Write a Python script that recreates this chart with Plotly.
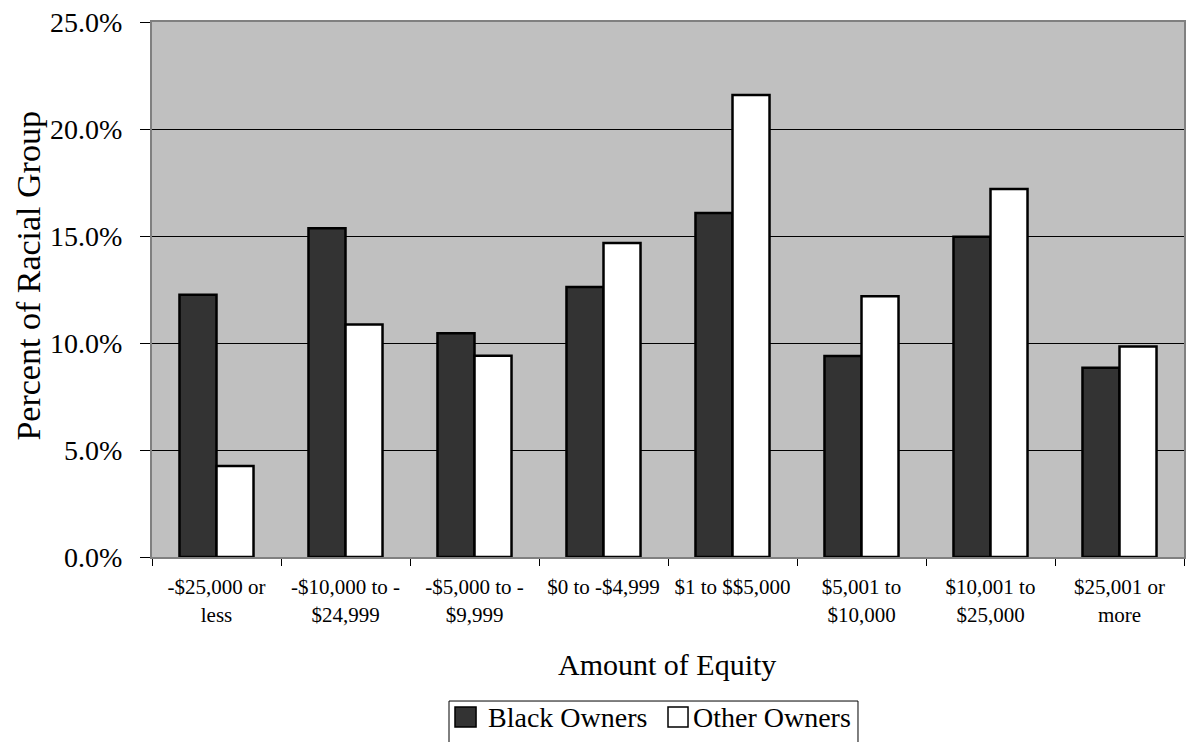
import plotly.graph_objects as go

categories = [
    "-$25,000 or<br>less",
    "-$10,000 to -<br>$24,999",
    "-$5,000 to -<br>$9,999",
    "$0 to -$4,999",
    "$1 to $$5,000",
    "$5,001 to<br>$10,000",
    "$10,001 to<br>$25,000",
    "$25,001 or<br>more",
]
black_owners = [12.26, 15.36, 10.46, 12.62, 16.07, 9.39, 14.97, 8.84]
other_owners = [4.25, 10.87, 9.41, 14.67, 21.59, 12.18, 17.20, 9.84]
series_names = ["Black Owners", "Other Owners"]
series_colors = ["#333333", "#FFFFFF"]
y_ticks = [0, 5, 10, 15, 20, 25]
y_tick_labels = ["0.0%", "5.0%", "10.0%", "15.0%", "20.0%", "25.0%"]

FONT = "Liberation Serif, Times New Roman, serif"

fig = go.Figure()
for name, values, color in zip(series_names, [black_owners, other_owners], series_colors):
    fig.add_trace(go.Bar(
        x=categories, y=values, name=name,
        marker=dict(color=color, line=dict(color="#000000", width=2.5)),
        showlegend=False,
    ))

fig.update_layout(
    width=1190, height=742,
    margin=dict(l=152, r=6, t=22, b=185, autoexpand=False),
    paper_bgcolor="#FFFFFF",
    plot_bgcolor="#C0C0C0",
    font=dict(family=FONT, color="#000000"),
    barmode="group",
    bargap=0.426,
    bargroupgap=0,
)

fig.update_xaxes(
    type="category",
    tickson="boundaries",
    ticks="outside", ticklen=7, tickcolor="#000000", tickwidth=1,
    tickfont=dict(family=FONT, size=21),
    ticklabelstandoff=10,
    showline=True, linecolor="#808080", linewidth=2,
    mirror=True,
    showgrid=False,
    automargin=False,
)
fig.update_yaxes(
    range=[0, 25],
    tickmode="array", tickvals=y_ticks, ticktext=y_tick_labels,
    ticks="outside", ticklen=10, tickcolor="#000000", tickwidth=1,
    tickfont=dict(family=FONT, size=28),
    ticklabelstandoff=12,
    showline=True, linecolor="#808080", linewidth=2,
    mirror=True,
    showgrid=True, gridcolor="#000000", gridwidth=1,
    zeroline=False,
    automargin=False,
)

# Axis titles
fig.add_annotation(
    text="Percent of Racial Group", xref="paper", yref="paper",
    x=-0.1206, y=0.5252, xanchor="center", yanchor="middle",
    textangle=-90, showarrow=False, font=dict(family=FONT, size=34),
)
fig.add_annotation(
    text="Amount of Equity", xref="paper", yref="paper",
    x=0.499, y=-0.2, xanchor="center", yanchor="middle",
    showarrow=False, font=dict(family=FONT, size=30),
)

# Legend box with swatches
fig.add_shape(
    type="rect", xref="paper", yref="paper",
    x0=0.2878, x1=0.6841, y0=-0.3495, y1=-0.2692,
    line=dict(color="#000000", width=1), fillcolor="#FFFFFF", layer="above",
)
swatches = [(0.2936, 0.3140, 0.3236), (0.5000, 0.5194, 0.5223)]
for (sx0, sx1, tx), name, color in zip(swatches, series_names, series_colors):
    fig.add_shape(
        type="rect", xref="paper", yref="paper",
        x0=sx0, x1=sx1, y0=-0.3178, y1=-0.2804,
        line=dict(color="#000000", width=1.5), fillcolor=color, layer="above",
    )
    fig.add_annotation(
        text=name, xref="paper", yref="paper",
        x=tx, y=-0.3009, xanchor="left", yanchor="middle",
        showarrow=False, font=dict(family=FONT, size=28),
    )

fig.write_html("out.html")
